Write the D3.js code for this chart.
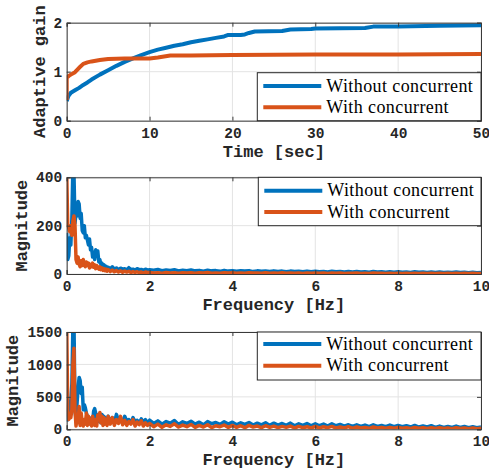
<!DOCTYPE html>
<html><head><meta charset="utf-8">
<script src="https://cdn.jsdelivr.net/npm/d3@7"></script>
<style>
html,body{margin:0;padding:0;background:#fff;}
svg{display:block;}
.tick text{font-family:"Liberation Mono","Courier New",monospace;font-weight:bold;}
</style></head>
<body><svg id="c" width="489" height="472"></svg>
<script>
// ---------- DATA ----------
const seriesNames = ["Without concurrent", "With concurrent"];
const colors = ["#0072BD", "#D95319"];

// Panel 1: adaptive gain vs time
const timeWithout = [0, 0.2, 0.5, 1, 1.5, 2, 2.5, 3, 4, 5, 6, 7, 8, 9, 10, 11, 12, 13, 14, 15, 16, 17, 18, 19, 19.5, 21, 21.5, 22, 22.7, 26, 27, 29.5, 30, 36, 37, 40, 45, 50];
const gainWithout = [0.40, 0.50, 0.57, 0.62, 0.67, 0.73, 0.78, 0.84, 0.94, 1.03, 1.12, 1.20, 1.27, 1.34, 1.40, 1.45, 1.49, 1.53, 1.56, 1.60, 1.63, 1.66, 1.69, 1.72, 1.75, 1.75, 1.76, 1.79, 1.82, 1.83, 1.86, 1.87, 1.88, 1.89, 1.92, 1.92, 1.94, 1.95];
const timeWith = [0, 0.001, 0.3, 0.6, 1, 1.5, 2, 2.5, 3, 4, 5, 7, 10, 11, 12.5, 15, 20, 30, 40, 50];
const gainWith = [0.42, 0.88, 0.92, 0.95, 0.99, 1.08, 1.16, 1.19, 1.21, 1.24, 1.26, 1.27, 1.27, 1.29, 1.33, 1.33, 1.34, 1.35, 1.35, 1.36];

// Frequency bins (Hz): 0-1 step 0.025, 1-2 step 0.05, 2-10 step 0.1
const freqBins = [].concat(
  d3.range(0, 40).map(i => i * 0.025),
  d3.range(0, 20).map(i => 1 + i * 0.05),
  d3.range(0, 81).map(i => 2 + i * 0.1)
);

// Panel 2 magnitudes
const mag2Without = [
  170, 60, 75, 150, 120, 230, 450, 420, 210, 250, 240, 300, 290, 230, 250, 180, 170, 200, 150, 160,
  140, 120, 145, 100, 110, 70, 90, 60, 100, 75, 95, 50, 60, 40, 45, 30, 38, 25, 32, 22,
  28, 22, 30, 20, 25, 18, 24, 20, 22, 17, 26, 18, 20, 16, 22, 18, 19, 15, 20, 16,
  18, 16, 19, 14, 17, 15, 18, 13, 16, 14, 17, 13, 15, 12, 16, 13, 14, 11, 15, 12,
  14, 11, 13, 12, 14, 10, 13, 11, 12, 10, 13, 10, 12, 9, 12, 10, 11, 9, 12, 9,
  11, 9, 10, 8, 11, 9, 10, 8, 10, 8, 10, 8, 9, 7, 10, 8, 9, 7, 9, 7,
  9, 7, 8, 6, 9, 7, 8, 6, 8, 6, 8, 6, 7, 6, 8, 6, 7, 5, 7, 5, 6
];
const mag2With = [
  420, 200, 190, 175, 200, 160, 220, 240, 200, 60, 45, 70, 40, 30, 55, 35, 60, 40, 30, 50,
  35, 45, 25, 40, 30, 45, 28, 38, 22, 35, 25, 20, 30, 18, 25, 15, 22, 14, 20, 12,
  18, 10, 16, 9, 14, 8, 13, 7, 12, 8, 11, 6, 10, 7, 9, 6, 8, 5, 8, 6,
  6, 4, 5, 3, 6, 4, 5, 3, 5, 4, 5, 3, 5, 4, 6, 3, 4, 3, 5, 4,
  5, 3, 4, 3, 5, 4, 4, 3, 5, 3, 4, 3, 5, 3, 4, 3, 4, 2, 4, 3,
  4, 3, 4, 2, 4, 3, 4, 2, 3, 3, 4, 2, 3, 2, 4, 3, 3, 2, 3, 2,
  3, 2, 3, 2, 3, 2, 3, 2, 3, 2, 3, 2, 3, 2, 3, 2, 3, 2, 3, 2, 2
];

// Panel 3 magnitudes
const mag3Without = [
  120, 200, 420, 250, 450, 700, 1600, 1700, 300, 150, 400, 650, 800, 750, 550, 650, 300, 380, 330, 250,
  200, 120, 180, 80, 150, 100, 280, 320, 250, 150, 220, 120, 180, 100, 230, 150, 200, 130, 170, 110,
  200, 120, 180, 100, 230, 140, 170, 90, 200, 130, 150, 100, 180, 120, 140, 90, 160, 110, 150, 100,
  140, 90, 130, 80, 120, 95, 135, 75, 115, 90, 125, 80, 110, 70, 120, 85, 105, 75, 115, 80,
  110, 70, 100, 75, 105, 65, 95, 70, 100, 60, 95, 65, 90, 60, 95, 55, 85, 60, 90, 55,
  85, 55, 80, 50, 85, 55, 75, 50, 70, 45, 70, 45, 65, 40, 70, 45, 60, 40, 65, 40,
  60, 40, 55, 35, 60, 35, 50, 35, 55, 30, 50, 30, 45, 30, 50, 30, 45, 25, 40, 25, 35
];
const mag3With = [
  1600, 300, 150, 200, 180, 300, 1000, 1250, 300, 50, 200, 100, 350, 60, 250, 100, 50, 150, 80, 250,
  60, 200, 80, 150, 50, 200, 100, 60, 150, 50, 220, 150, 260, 100, 200, 60, 180, 80, 150, 60,
  200, 80, 180, 60, 150, 90, 200, 70, 140, 60, 120, 80, 150, 50, 110, 70, 130, 50, 100, 60,
  90, 40, 80, 30, 70, 45, 85, 35, 65, 40, 75, 30, 60, 35, 70, 25, 55, 40, 65, 30,
  60, 30, 55, 25, 60, 35, 50, 25, 55, 30, 50, 25, 45, 30, 50, 20, 45, 25, 40, 20,
  45, 20, 40, 25, 45, 20, 35, 20, 40, 15, 35, 20, 30, 15, 35, 20, 30, 15, 30, 15,
  30, 15, 25, 12, 28, 15, 25, 12, 25, 12, 25, 12, 22, 10, 25, 12, 20, 10, 20, 10, 15
];

// Tick values
const xTicks1 = [0, 10, 20, 30, 40, 50];
const yTicks1 = [0, 1, 2];
const xTicksF = [0, 2, 4, 6, 8, 10];
const yTicks2 = [0, 200, 400];
const yTicks3 = [0, 500, 1000, 1500];

// ---------- DRAW ----------
const svg = d3.select("#c");
const L = 66.7, R = 481;

const panels = [
  {top: 22.7, bottom: 120.7, xDom: [0, 50], yDom: [0, 2], xT: xTicks1, yT: yTicks1,
   xLabel: "Time [sec]", yLabel: "Adaptive gain", yLabX: 44.5,
   lines: [[timeWithout, gainWithout], [timeWith, gainWith]], lw: 4,
   leg: {x0: 257.3, y0: 72.7, y1: 120.7, r1: 86, r2: 107.3}},
  {top: 177.3, bottom: 274, xDom: [0, 10], yDom: [0, 400], xT: xTicksF, yT: yTicks2,
   xLabel: "Frequency [Hz]", yLabel: "Magnitude", yLabX: 26.5,
   lines: [[freqBins, mag2Without], [freqBins, mag2With]], lw: 3.5,
   leg: {x0: 258.3, y0: 177.3, y1: 225.7, r1: 190.7, r2: 212}},
  {top: 332, bottom: 429.3, xDom: [0, 10], yDom: [0, 1500], xT: xTicksF, yT: yTicks3,
   xLabel: "Frequency [Hz]", yLabel: "Magnitude", yLabX: 17.5,
   lines: [[freqBins, mag3Without], [freqBins, mag3With]], lw: 3.5,
   leg: {x0: 257.3, y0: 332, y1: 380, r1: 344, r2: 365.7}}
];

panels.forEach((p, pi) => {
  const x = d3.scaleLinear().domain(p.xDom).range([L, R]);
  const y = d3.scaleLinear().domain(p.yDom).range([p.bottom, p.top]);
  const g = svg.append("g");
  const clipId = "clip" + pi;
  svg.append("clipPath").attr("id", clipId).append("rect")
    .attr("x", L).attr("y", p.top).attr("width", R - L).attr("height", p.bottom - p.top);

  // grid
  g.append("g").selectAll("line.gx").data(p.xT).join("line")
    .attr("x1", d => x(d)).attr("x2", d => x(d)).attr("y1", p.top).attr("y2", p.bottom)
    .attr("stroke", "#e3e3e3").attr("stroke-width", 1);
  g.append("g").selectAll("line.gy").data(p.yT).join("line")
    .attr("y1", d => y(d)).attr("y2", d => y(d)).attr("x1", L).attr("x2", R)
    .attr("stroke", "#e3e3e3").attr("stroke-width", 1);

  // lines
  const line = d3.line().x(d => x(d[0])).y(d => y(d[1]));
  p.lines.forEach((ln, i) => {
    const pts = ln[0].map((t, k) => [t, ln[1][k]]);
    g.append("path").datum(pts).attr("d", line)
      .attr("fill", "none").attr("stroke", colors[i]).attr("stroke-width", p.lw)
      .attr("stroke-linejoin", "round").attr("clip-path", `url(#${clipId})`);
  });

  // axes
  const fs = "14.5px";
  const ax = g.append("g").attr("transform", `translate(0,${p.bottom})`)
    .call(d3.axisBottom(x).tickValues(p.xT).tickSize(-4).tickPadding(5).tickFormat(d3.format("d")));
  const axT = g.append("g").attr("transform", `translate(0,${p.top})`)
    .call(d3.axisTop(x).tickValues(p.xT).tickSize(-4).tickFormat(""));
  const ay = g.append("g").attr("transform", `translate(${L},0)`)
    .call(d3.axisLeft(y).tickValues(p.yT).tickSize(-4).tickPadding(5).tickFormat(d3.format("d")));
  const ayR = g.append("g").attr("transform", `translate(${R},0)`)
    .call(d3.axisRight(y).tickValues(p.yT).tickSize(-4).tickFormat(""));
  [ax, axT, ay, ayR].forEach(a => {
    a.select(".domain").attr("stroke", "#3a3a3a").attr("stroke-width", 1);
    a.selectAll(".tick line").attr("stroke", "#3a3a3a");
    a.selectAll(".tick text").attr("font-size", fs).attr("fill", "#262626");
  });
  ax.selectAll(".tick text").attr("dy", null).attr("y", 17);
  ay.selectAll(".tick text").attr("x", -4.5);

  // axis labels
  g.append("text").attr("x", (L + R) / 2).attr("y", p.bottom + 36)
    .attr("text-anchor", "middle").attr("font-family", "'Liberation Mono','Courier New',monospace")
    .attr("font-weight", "bold").attr("font-size", "17px").attr("fill", "#262626").text(p.xLabel);
  g.append("text").attr("transform", `translate(${p.yLabX},${(p.top + p.bottom) / 2}) rotate(-90)`)
    .attr("text-anchor", "middle").attr("font-family", "'Liberation Mono','Courier New',monospace")
    .attr("font-weight", "bold").attr("font-size", "17px").attr("fill", "#262626").text(p.yLabel);

  // legend
  const lg = g.append("g");
  lg.append("rect").attr("x", p.leg.x0).attr("y", p.leg.y0)
    .attr("width", R - p.leg.x0).attr("height", p.leg.y1 - p.leg.y0)
    .attr("fill", "#fff").attr("stroke", "#262626").attr("stroke-width", 1);
  [p.leg.r1, p.leg.r2].forEach((ry, i) => {
    lg.append("line").attr("x1", p.leg.x0 + 6).attr("x2", p.leg.x0 + 64)
      .attr("y1", ry).attr("y2", ry).attr("stroke", colors[i]).attr("stroke-width", 4);
    lg.append("text").attr("x", p.leg.x0 + 69).attr("y", ry + 5.5)
      .attr("font-family", "'Liberation Serif','Times New Roman',serif")
      .attr("font-size", "18px").attr("letter-spacing", "0.4px")
      .attr("fill", "#000").text(seriesNames[i]);
  });
});
</script></body></html>
